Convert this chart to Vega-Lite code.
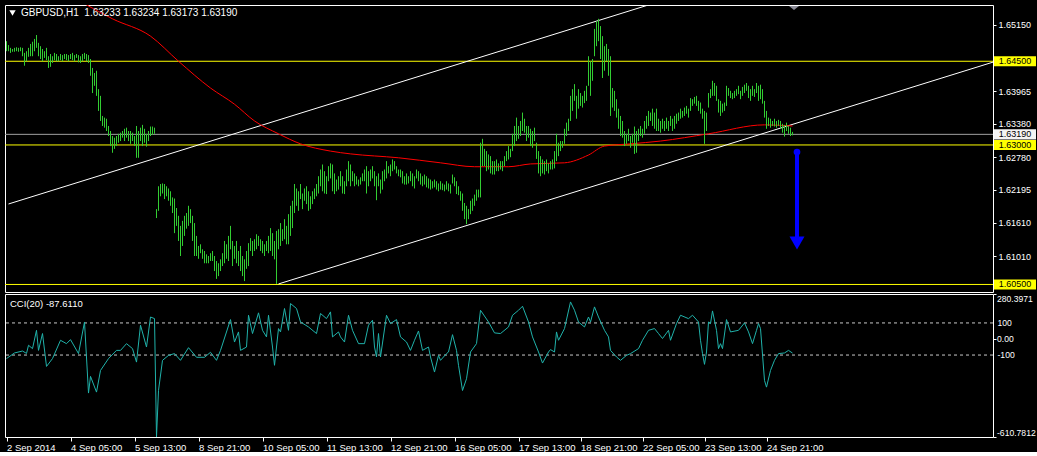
{
"$schema": "https://vega.github.io/schema/vega-lite/v6.json",
"background": "#000000",
"padding": {"left": 4, "top": 4, "right": 0, "bottom": 0},
"spacing": 2,
"bounds": "flush",
"config": {
 "view": {"stroke": "#FFFFFF", "strokeWidth": 1},
 "axis": {"grid": false, "domain": false, "labelColor": "#FFFFFF", "tickColor": "#FFFFFF", "labelFont": "Liberation Sans", "labelFontSize": 9, "title": null, "labelOverlap": false},
 "text": {"font": "Liberation Sans", "fontSize": 9.5}
},
"datasets": {
 "bars": [
{"i":0,"h":1.6486,"l":1.6468},{"i":1,"h":1.6479,"l":1.6468},{"i":2,"h":1.6474,"l":1.6465},{"i":3,"h":1.6472,"l":1.6467},{"i":4,"h":1.6474,"l":1.6467},{"i":5,"h":1.6475,"l":1.6468},{"i":6,"h":1.6474,"l":1.6467},{"i":7,"h":1.6475,"l":1.6468},
{"i":8,"h":1.6474,"l":1.6459},{"i":9,"h":1.6465,"l":1.6442},{"i":10,"h":1.6468,"l":1.6450},{"i":11,"h":1.6474,"l":1.6458},{"i":12,"h":1.6481,"l":1.6459},{"i":13,"h":1.6485,"l":1.6459},{"i":14,"h":1.6490,"l":1.6468},{"i":15,"h":1.6497,"l":1.6474},
{"i":16,"h":1.6483,"l":1.6459},{"i":17,"h":1.6477,"l":1.6454},{"i":18,"h":1.6472,"l":1.6450},{"i":19,"h":1.6468,"l":1.6456},{"i":20,"h":1.6474,"l":1.6452},
{"i":21,"h":1.6459,"l":1.6438},{"i":22,"h":1.6463,"l":1.6440},{"i":23,"h":1.6459,"l":1.6447},{"i":24,"h":1.6465,"l":1.6452},
{"i":25,"h":1.6463,"l":1.6450},{"i":26,"h":1.6459,"l":1.6450},{"i":27,"h":1.6463,"l":1.6452},{"i":28,"h":1.6461,"l":1.6450},{"i":29,"h":1.6463,"l":1.6454},{"i":30,"h":1.6463,"l":1.6452},{"i":31,"h":1.6461,"l":1.6450},{"i":32,"h":1.6463,"l":1.6454},{"i":33,"h":1.6465,"l":1.6452},{"i":34,"h":1.6461,"l":1.6450},{"i":35,"h":1.6463,"l":1.6456},{"i":36,"h":1.6461,"l":1.6448},{"i":37,"h":1.6459,"l":1.6447},{"i":38,"h":1.6463,"l":1.6450},{"i":39,"h":1.6465,"l":1.6454},{"i":40,"h":1.6463,"l":1.6450},{"i":41,"h":1.6461,"l":1.6447},
{"i":42,"h":1.6454,"l":1.6424},{"i":43,"h":1.6438,"l":1.6393},{"i":44,"h":1.6429,"l":1.6406},{"i":45,"h":1.6433,"l":1.6388},{"i":46,"h":1.6400,"l":1.6361},{"i":47,"h":1.6388,"l":1.6343},{"i":48,"h":1.6352,"l":1.6334},{"i":49,"h":1.6349,"l":1.6331},{"i":50,"h":1.6347,"l":1.6325},{"i":51,"h":1.6334,"l":1.6316},{"i":52,"h":1.6325,"l":1.6298},{"i":53,"h":1.6316,"l":1.6286},{"i":54,"h":1.6313,"l":1.6293},{"i":55,"h":1.6316,"l":1.6298},{"i":56,"h":1.6320,"l":1.6304},{"i":57,"h":1.6322,"l":1.6307},{"i":58,"h":1.6325,"l":1.6313},{"i":59,"h":1.6329,"l":1.6307},{"i":60,"h":1.6331,"l":1.6313},{"i":61,"h":1.6325,"l":1.6307},{"i":62,"h":1.6325,"l":1.6302},{"i":63,"h":1.6322,"l":1.6307},{"i":64,"h":1.6316,"l":1.6298},{"i":65,"h":1.6334,"l":1.6277},{"i":66,"h":1.6325,"l":1.6277},{"i":67,"h":1.6331,"l":1.6307},{"i":68,"h":1.6336,"l":1.6298},{"i":69,"h":1.6329,"l":1.6304},{"i":70,"h":1.6320,"l":1.6297},{"i":71,"h":1.6325,"l":1.6307},{"i":72,"h":1.6333,"l":1.6316},{"i":73,"h":1.6333,"l":1.6318},{"i":74,"h":1.6331,"l":1.6320},
{"i":75,"h":1.6185,"l":1.6169},{"i":76,"h":1.6226,"l":1.6182},{"i":77,"h":1.6230,"l":1.6208},{"i":78,"h":1.6231,"l":1.6213},{"i":79,"h":1.6230,"l":1.6203},{"i":80,"h":1.6226,"l":1.6208},{"i":81,"h":1.6222,"l":1.6200},{"i":82,"h":1.6217,"l":1.6191},{"i":83,"h":1.6206,"l":1.6178},{"i":84,"h":1.6204,"l":1.6142},{"i":85,"h":1.6187,"l":1.6155},{"i":86,"h":1.6173,"l":1.6128},{"i":87,"h":1.6155,"l":1.6101},{"i":88,"h":1.6164,"l":1.6119},{"i":89,"h":1.6173,"l":1.6137},{"i":90,"h":1.6178,"l":1.6150},{"i":91,"h":1.6191,"l":1.6155},{"i":92,"h":1.6185,"l":1.6160},{"i":93,"h":1.6173,"l":1.6128},{"i":94,"h":1.6160,"l":1.6101},{"i":95,"h":1.6137,"l":1.6101},{"i":96,"h":1.6119,"l":1.6096},{"i":97,"h":1.6122,"l":1.6106},{"i":98,"h":1.6113,"l":1.6096},{"i":99,"h":1.6110,"l":1.6088},{"i":100,"h":1.6104,"l":1.6088},{"i":101,"h":1.6101,"l":1.6088},{"i":102,"h":1.6106,"l":1.6092},{"i":103,"h":1.6110,"l":1.6092},{"i":104,"h":1.6101,"l":1.6074},{"i":105,"h":1.6092,"l":1.6060},{"i":106,"h":1.6088,"l":1.6065},{"i":107,"h":1.6095,"l":1.6074},{"i":108,"h":1.6106,"l":1.6083},{"i":109,"h":1.6128,"l":1.6088},{"i":110,"h":1.6122,"l":1.6096},{"i":111,"h":1.6137,"l":1.6092},{"i":112,"h":1.6155,"l":1.6113},{"i":113,"h":1.6128,"l":1.6083},{"i":114,"h":1.6119,"l":1.6096},{"i":115,"h":1.6128,"l":1.6088},{"i":116,"h":1.6110,"l":1.6083},{"i":117,"h":1.6119,"l":1.6074},{"i":118,"h":1.6101,"l":1.6065},{"i":119,"h":1.6095,"l":1.6056},{"i":120,"h":1.6110,"l":1.6078},{"i":121,"h":1.6124,"l":1.6083},{"i":122,"h":1.6133,"l":1.6110},{"i":123,"h":1.6128,"l":1.6101},{"i":124,"h":1.6131,"l":1.6110},{"i":125,"h":1.6140,"l":1.6113},{"i":126,"h":1.6137,"l":1.6119},{"i":127,"h":1.6131,"l":1.6110},{"i":128,"h":1.6128,"l":1.6106},{"i":129,"h":1.6122,"l":1.6101},{"i":130,"h":1.6128,"l":1.6110},{"i":131,"h":1.6137,"l":1.6106},{"i":132,"h":1.6151,"l":1.6110},{"i":133,"h":1.6142,"l":1.6101},{"i":134,"h":1.6128,"l":1.6095},{"i":135,"h":1.6146,"l":1.6051},{"i":136,"h":1.6149,"l":1.6113},{"i":137,"h":1.6160,"l":1.6119},{"i":138,"h":1.6149,"l":1.6128},{"i":139,"h":1.6167,"l":1.6131},{"i":140,"h":1.6155,"l":1.6122},{"i":141,"h":1.6176,"l":1.6122},{"i":142,"h":1.6191,"l":1.6137},{"i":143,"h":1.6200,"l":1.6151},{"i":144,"h":1.6230,"l":1.6178},{"i":145,"h":1.6222,"l":1.6191},{"i":146,"h":1.6217,"l":1.6182},{"i":147,"h":1.6230,"l":1.6203},{"i":148,"h":1.6213,"l":1.6185},{"i":149,"h":1.6222,"l":1.6200},{"i":150,"h":1.6226,"l":1.6194},{"i":151,"h":1.6217,"l":1.6182},{"i":152,"h":1.6208,"l":1.6185},{"i":153,"h":1.6217,"l":1.6194},{"i":154,"h":1.6222,"l":1.6203},{"i":155,"h":1.6230,"l":1.6208},{"i":156,"h":1.6244,"l":1.6213},{"i":157,"h":1.6256,"l":1.6226},{"i":158,"h":1.6265,"l":1.6217},{"i":159,"h":1.6253,"l":1.6213},{"i":160,"h":1.6244,"l":1.6212},{"i":161,"h":1.6262,"l":1.6235},{"i":162,"h":1.6267,"l":1.6240},{"i":163,"h":1.6265,"l":1.6217},{"i":164,"h":1.6249,"l":1.6212},{"i":165,"h":1.6238,"l":1.6217},{"i":166,"h":1.6244,"l":1.6220},{"i":167,"h":1.6253,"l":1.6226},{"i":168,"h":1.6244,"l":1.6213},{"i":169,"h":1.6235,"l":1.6212},{"i":170,"h":1.6256,"l":1.6226},{"i":171,"h":1.6271,"l":1.6235},{"i":172,"h":1.6265,"l":1.6226},{"i":173,"h":1.6253,"l":1.6235},{"i":174,"h":1.6249,"l":1.6226},{"i":175,"h":1.6244,"l":1.6229},{"i":176,"h":1.6238,"l":1.6226},{"i":177,"h":1.6242,"l":1.6229},{"i":178,"h":1.6249,"l":1.6235},{"i":179,"h":1.6256,"l":1.6235},{"i":180,"h":1.6262,"l":1.6213},{"i":181,"h":1.6253,"l":1.6226},{"i":182,"h":1.6256,"l":1.6235},{"i":183,"h":1.6262,"l":1.6240},{"i":184,"h":1.6253,"l":1.6226},{"i":185,"h":1.6244,"l":1.6201},{"i":186,"h":1.6249,"l":1.6226},{"i":187,"h":1.6238,"l":1.6213},{"i":188,"h":1.6253,"l":1.6220},{"i":189,"h":1.6256,"l":1.6235},{"i":190,"h":1.6271,"l":1.6240},{"i":191,"h":1.6262,"l":1.6249},{"i":192,"h":1.6265,"l":1.6244},{"i":193,"h":1.6274,"l":1.6253},{"i":194,"h":1.6271,"l":1.6256},{"i":195,"h":1.6262,"l":1.6249},{"i":196,"h":1.6256,"l":1.6244},{"i":197,"h":1.6256,"l":1.6242},{"i":198,"h":1.6253,"l":1.6231},{"i":199,"h":1.6244,"l":1.6229},{"i":200,"h":1.6249,"l":1.6229},{"i":201,"h":1.6244,"l":1.6231},{"i":202,"h":1.6253,"l":1.6235},{"i":203,"h":1.6249,"l":1.6226},{"i":204,"h":1.6244,"l":1.6222},{"i":205,"h":1.6256,"l":1.6240},{"i":206,"h":1.6253,"l":1.6235},{"i":207,"h":1.6249,"l":1.6229},{"i":208,"h":1.6244,"l":1.6226},{"i":209,"h":1.6247,"l":1.6229},{"i":210,"h":1.6244,"l":1.6224},{"i":211,"h":1.6240,"l":1.6222},{"i":212,"h":1.6238,"l":1.6220},{"i":213,"h":1.6235,"l":1.6222},{"i":214,"h":1.6238,"l":1.6224},{"i":215,"h":1.6235,"l":1.6220},{"i":216,"h":1.6231,"l":1.6217},{"i":217,"h":1.6235,"l":1.6220},{"i":218,"h":1.6231,"l":1.6219},{"i":219,"h":1.6229,"l":1.6217},{"i":220,"h":1.6235,"l":1.6220},{"i":221,"h":1.6231,"l":1.6217},{"i":222,"h":1.6229,"l":1.6213},{"i":223,"h":1.6247,"l":1.6231},{"i":224,"h":1.6242,"l":1.6226},{"i":225,"h":1.6235,"l":1.6212},{"i":226,"h":1.6226,"l":1.6210},{"i":227,"h":1.6217,"l":1.6200},{"i":228,"h":1.6213,"l":1.6182},{"i":229,"h":1.6196,"l":1.6167},{"i":230,"h":1.6191,"l":1.6158},{"i":231,"h":1.6185,"l":1.6167},{"i":232,"h":1.6200,"l":1.6176},{"i":233,"h":1.6204,"l":1.6182},{"i":234,"h":1.6211,"l":1.6191},{"i":235,"h":1.6220,"l":1.6200},{"i":236,"h":1.6220,"l":1.6206},{"i":237,"h":1.6304,"l":1.6206},{"i":238,"h":1.6311,"l":1.6262},{"i":239,"h":1.6293,"l":1.6262},{"i":240,"h":1.6289,"l":1.6253},{"i":241,"h":1.6283,"l":1.6256},{"i":242,"h":1.6280,"l":1.6249},{"i":243,"h":1.6271,"l":1.6247},{"i":244,"h":1.6271,"l":1.6247},{"i":245,"h":1.6274,"l":1.6253},{"i":246,"h":1.6267,"l":1.6253},{"i":247,"h":1.6271,"l":1.6256},{"i":248,"h":1.6271,"l":1.6253},{"i":249,"h":1.6280,"l":1.6262},{"i":250,"h":1.6289,"l":1.6271},{"i":251,"h":1.6298,"l":1.6274},{"i":252,"h":1.6293,"l":1.6278},{"i":253,"h":1.6320,"l":1.6289},{"i":254,"h":1.6334,"l":1.6298},{"i":255,"h":1.6349,"l":1.6307},{"i":256,"h":1.6334,"l":1.6311},{"i":257,"h":1.6343,"l":1.6316},{"i":258,"h":1.6358,"l":1.6325},{"i":259,"h":1.6347,"l":1.6322},{"i":260,"h":1.6334,"l":1.6307},{"i":261,"h":1.6334,"l":1.6313},{"i":262,"h":1.6329,"l":1.6298},{"i":263,"h":1.6325,"l":1.6295},{"i":264,"h":1.6331,"l":1.6307},{"i":265,"h":1.6304,"l":1.6275},{"i":266,"h":1.6289,"l":1.6249},{"i":267,"h":1.6280,"l":1.6244},{"i":268,"h":1.6274,"l":1.6249},{"i":269,"h":1.6271,"l":1.6247},{"i":270,"h":1.6274,"l":1.6253},{"i":271,"h":1.6267,"l":1.6249},{"i":272,"h":1.6271,"l":1.6256},{"i":273,"h":1.6274,"l":1.6256},{"i":274,"h":1.6289,"l":1.6258},{"i":275,"h":1.6320,"l":1.6271},{"i":276,"h":1.6304,"l":1.6280},{"i":277,"h":1.6307,"l":1.6289},{"i":278,"h":1.6307,"l":1.6295},{"i":279,"h":1.6329,"l":1.6302},{"i":280,"h":1.6340,"l":1.6316},{"i":281,"h":1.6347,"l":1.6325},{"i":282,"h":1.6388,"l":1.6343},{"i":283,"h":1.6400,"l":1.6361},{"i":284,"h":1.6409,"l":1.6379},{"i":285,"h":1.6388,"l":1.6347},{"i":286,"h":1.6400,"l":1.6365},{"i":287,"h":1.6393,"l":1.6370},{"i":288,"h":1.6388,"l":1.6367},{"i":289,"h":1.6397,"l":1.6375},{"i":290,"h":1.6406,"l":1.6379},{"i":291,"h":1.6459,"l":1.6406},{"i":292,"h":1.6450,"l":1.6388},{"i":293,"h":1.6454,"l":1.6415},{"i":294,"h":1.6508,"l":1.6459},{"i":295,"h":1.6522,"l":1.6477},{"i":296,"h":1.6526,"l":1.6486},{"i":297,"h":1.6513,"l":1.6454},{"i":298,"h":1.6495,"l":1.6420},{"i":299,"h":1.6477,"l":1.6433},{"i":300,"h":1.6481,"l":1.6450},{"i":301,"h":1.6472,"l":1.6424},{"i":302,"h":1.6459,"l":1.6352},{"i":303,"h":1.6402,"l":1.6367},{"i":304,"h":1.6397,"l":1.6361},{"i":305,"h":1.6382,"l":1.6349},{"i":306,"h":1.6365,"l":1.6329},{"i":307,"h":1.6352,"l":1.6316},{"i":308,"h":1.6343,"l":1.6313},{"i":309,"h":1.6325,"l":1.6298},{"i":310,"h":1.6320,"l":1.6302},{"i":311,"h":1.6329,"l":1.6307},{"i":312,"h":1.6316,"l":1.6295},{"i":313,"h":1.6320,"l":1.6304},{"i":314,"h":1.6333,"l":1.6284},{"i":315,"h":1.6325,"l":1.6286},{"i":316,"h":1.6329,"l":1.6307},{"i":317,"h":1.6334,"l":1.6316},{"i":318,"h":1.6329,"l":1.6313},{"i":319,"h":1.6343,"l":1.6320},{"i":320,"h":1.6352,"l":1.6329},{"i":321,"h":1.6361,"l":1.6334},{"i":322,"h":1.6358,"l":1.6343},{"i":323,"h":1.6365,"l":1.6334},{"i":324,"h":1.6358,"l":1.6329},{"i":325,"h":1.6365,"l":1.6325},{"i":326,"h":1.6347,"l":1.6325},{"i":327,"h":1.6343,"l":1.6322},{"i":328,"h":1.6347,"l":1.6329},{"i":329,"h":1.6343,"l":1.6325},{"i":330,"h":1.6349,"l":1.6329},{"i":331,"h":1.6343,"l":1.6325},{"i":332,"h":1.6352,"l":1.6334},{"i":333,"h":1.6347,"l":1.6325},{"i":334,"h":1.6352,"l":1.6329},{"i":335,"h":1.6356,"l":1.6338},{"i":336,"h":1.6358,"l":1.6343},{"i":337,"h":1.6365,"l":1.6347},{"i":338,"h":1.6361,"l":1.6349},{"i":339,"h":1.6367,"l":1.6352},{"i":340,"h":1.6370,"l":1.6356},{"i":341,"h":1.6365,"l":1.6349},{"i":342,"h":1.6384,"l":1.6361},{"i":343,"h":1.6382,"l":1.6370},{"i":344,"h":1.6386,"l":1.6374},{"i":345,"h":1.6388,"l":1.6370},{"i":346,"h":1.6379,"l":1.6361},{"i":347,"h":1.6376,"l":1.6356},{"i":348,"h":1.6365,"l":1.6347},{"i":349,"h":1.6361,"l":1.6302},{"i":350,"h":1.6358,"l":1.6325},{"i":351,"h":1.6393,"l":1.6367},{"i":352,"h":1.6400,"l":1.6384},{"i":353,"h":1.6415,"l":1.6388},{"i":354,"h":1.6411,"l":1.6388},{"i":355,"h":1.6406,"l":1.6379},{"i":356,"h":1.6382,"l":1.6358},{"i":357,"h":1.6379,"l":1.6352},{"i":358,"h":1.6374,"l":1.6358},{"i":359,"h":1.6376,"l":1.6361},{"i":360,"h":1.6406,"l":1.6370},{"i":361,"h":1.6402,"l":1.6388},{"i":362,"h":1.6397,"l":1.6384},{"i":363,"h":1.6393,"l":1.6382},{"i":364,"h":1.6397,"l":1.6384},{"i":365,"h":1.6400,"l":1.6388},{"i":366,"h":1.6406,"l":1.6391},{"i":367,"h":1.6397,"l":1.6382},{"i":368,"h":1.6404,"l":1.6388},{"i":369,"h":1.6408,"l":1.6393},{"i":370,"h":1.6411,"l":1.6397},{"i":371,"h":1.6406,"l":1.6384},{"i":372,"h":1.6400,"l":1.6379},{"i":373,"h":1.6406,"l":1.6388},{"i":374,"h":1.6400,"l":1.6386},{"i":375,"h":1.6411,"l":1.6393},{"i":376,"h":1.6406,"l":1.6379},{"i":377,"h":1.6408,"l":1.6382},{"i":378,"h":1.6400,"l":1.6374},{"i":379,"h":1.6379,"l":1.6349},{"i":380,"h":1.6361,"l":1.6329},{"i":381,"h":1.6349,"l":1.6334},{"i":382,"h":1.6347,"l":1.6331},{"i":383,"h":1.6343,"l":1.6334},{"i":384,"h":1.6347,"l":1.6333},{"i":385,"h":1.6343,"l":1.6331},{"i":386,"h":1.6345,"l":1.6334},{"i":387,"h":1.6343,"l":1.6329},{"i":388,"h":1.6338,"l":1.6322},{"i":389,"h":1.6336,"l":1.6315},{"i":390,"h":1.6340,"l":1.6325},{"i":391,"h":1.6334,"l":1.6320},{"i":392,"h":1.6331,"l":1.6316},{"i":393,"h":1.63234,"l":1.63173}
 ],
 "ma": [
{"i":39,"p":1.6553},{"i":53,"p":1.6526},{"i":72,"p":1.6495},{"i":86,"p":1.6450},{"i":102,"p":1.6402},{"i":114,"p":1.6373},{"i":124,"p":1.6343},{"i":136,"p":1.6320},{"i":147,"p":1.6302},{"i":162,"p":1.6289},{"i":172,"p":1.6284},{"i":196,"p":1.6277},{"i":217,"p":1.6268},{"i":234,"p":1.6261},{"i":251,"p":1.6261},{"i":262,"p":1.6266},{"i":279,"p":1.6268},{"i":291,"p":1.6282},{"i":299,"p":1.6298},{"i":312,"p":1.6302},{"i":327,"p":1.6307},{"i":351,"p":1.6320},{"i":379,"p":1.6336},{"i":393,"p":1.6334}
 ],
 "channel": [
{"i":1,"p":1.61942,"g":"upper"},{"i":322,"p":1.6552,"g":"upper"},
{"i":136,"p":1.60509,"g":"lower"},{"i":493.5,"p":1.64487,"g":"lower"}
 ],
 "levels": [
{"p":1.645,"lab":"1.64500","k":"level"},{"p":1.63,"lab":"1.63000","k":"level"},{"p":1.605,"lab":"1.60500","k":"level"},{"p":1.6319,"lab":"1.63190","k":"bid"}
 ],
 "cci": [
{"i":0,"v":-122},{"i":4,"v":-87},{"i":8,"v":-75},{"i":10,"v":-90},{"i":11,"v":-39},{"i":13,"v":-60},{"i":15,"v":54},{"i":16,"v":-71},{"i":18,"v":34},{"i":20,"v":-171},{"i":23,"v":-122},{"i":27,"v":-8},{"i":30,"v":-29},{"i":32,"v":-4},{"i":36,"v":-91},{"i":39,"v":106},{"i":41,"v":-337},{"i":42,"v":-233},{"i":45,"v":-331},{"i":47,"v":-196},{"i":51,"v":-122},{"i":55,"v":-71},{"i":57,"v":-71},{"i":60,"v":-29},{"i":63,"v":-60},{"i":65,"v":-144},{"i":67,"v":86},{"i":70,"v":-50},{"i":72,"v":137},{"i":74,"v":127},{"i":75,"v":-610},{"i":76,"v":-320},{"i":78,"v":-133},{"i":81,"v":-102},{"i":84,"v":-91},{"i":87,"v":-133},{"i":91,"v":-54},{"i":95,"v":-114},{"i":99,"v":-114},{"i":102,"v":-83},{"i":105,"v":-133},{"i":107,"v":-71},{"i":112,"v":121},{"i":114,"v":-19},{"i":116,"v":44},{"i":117,"v":-71},{"i":120,"v":-50},{"i":121,"v":148},{"i":123,"v":34},{"i":126,"v":163},{"i":128,"v":54},{"i":130,"v":13},{"i":131,"v":148},{"i":133,"v":-50},{"i":134,"v":-164},{"i":136,"v":65},{"i":137,"v":44},{"i":139,"v":190},{"i":141,"v":54},{"i":142,"v":221},{"i":145,"v":190},{"i":147,"v":106},{"i":151,"v":75},{"i":155,"v":34},{"i":157,"v":159},{"i":160,"v":127},{"i":162,"v":169},{"i":163,"v":13},{"i":166,"v":44},{"i":167,"v":13},{"i":169,"v":-19},{"i":171,"v":148},{"i":173,"v":54},{"i":176,"v":-29},{"i":179,"v":-29},{"i":181,"v":86},{"i":183,"v":117},{"i":184,"v":-50},{"i":185,"v":-112},{"i":186,"v":34},{"i":187,"v":-112},{"i":190,"v":148},{"i":192,"v":96},{"i":195,"v":121},{"i":197,"v":13},{"i":200,"v":-19},{"i":202,"v":-71},{"i":204,"v":-8},{"i":206,"v":50},{"i":208,"v":-71},{"i":211,"v":-50},{"i":212,"v":-112},{"i":214,"v":-206},{"i":216,"v":-102},{"i":217,"v":-133},{"i":220,"v":-91},{"i":221,"v":-81},{"i":223,"v":27},{"i":225,"v":-71},{"i":226,"v":-164},{"i":228,"v":-321},{"i":230,"v":-248},{"i":232,"v":-81},{"i":235,"v":-29},{"i":237,"v":179},{"i":241,"v":106},{"i":244,"v":38},{"i":247,"v":34},{"i":251,"v":75},{"i":253,"v":148},{"i":256,"v":179},{"i":258,"v":204},{"i":261,"v":106},{"i":263,"v":13},{"i":266,"v":-81},{"i":268,"v":-150},{"i":271,"v":-81},{"i":272,"v":-66},{"i":274,"v":-81},{"i":275,"v":44},{"i":276,"v":-8},{"i":279,"v":65},{"i":282,"v":231},{"i":284,"v":179},{"i":286,"v":106},{"i":289,"v":75},{"i":291,"v":137},{"i":292,"v":106},{"i":294,"v":200},{"i":296,"v":137},{"i":299,"v":54},{"i":301,"v":13},{"i":302,"v":-71},{"i":305,"v":-112},{"i":307,"v":-133},{"i":310,"v":-102},{"i":312,"v":-91},{"i":316,"v":-60},{"i":318,"v":-8},{"i":321,"v":54},{"i":324,"v":65},{"i":326,"v":34},{"i":328,"v":3},{"i":331,"v":54},{"i":332,"v":-8},{"i":335,"v":96},{"i":337,"v":148},{"i":341,"v":127},{"i":343,"v":148},{"i":346,"v":106},{"i":347,"v":-8},{"i":348,"v":-91},{"i":349,"v":-158},{"i":350,"v":-81},{"i":351,"v":106},{"i":352,"v":96},{"i":353,"v":175},{"i":355,"v":54},{"i":356,"v":-60},{"i":357,"v":-29},{"i":358,"v":-60},{"i":360,"v":121},{"i":362,"v":44},{"i":366,"v":54},{"i":369,"v":100},{"i":371,"v":44},{"i":373,"v":-29},{"i":375,"v":54},{"i":376,"v":96},{"i":377,"v":65},{"i":379,"v":-258},{"i":380,"v":-300},{"i":382,"v":-196},{"i":384,"v":-133},{"i":386,"v":-91},{"i":389,"v":-87},{"i":391,"v":-71},{"i":393,"v":-87.611}
 ]
},
"vconcat": [
 {
  "width": 988,
  "height": 287,
  "layer": [
   {"data": {"name": "levels"}, "mark": {"type": "rule", "strokeWidth": 1},
    "encoding": {
     "y": {"field": "p", "type": "quantitative", "scale": {"domain": [1.60365, 1.65508], "nice": false, "zero": false},
           "axis": {"orient": "right", "values": [1.6515, 1.63965, 1.6338, 1.6278, 1.62195, 1.6161, 1.6101], "format": ".5f", "tickSize": 3, "labelPadding": 2, "labelOverlap": false}},
     "color": {"field": "k", "type": "nominal", "scale": {"domain": ["level", "bid"], "range": ["#FFFF00", "#A0A0A0"]}, "legend": null}}},
   {"data": {"name": "channel"}, "mark": {"type": "line", "color": "#FFFFFF", "strokeWidth": 1, "clip": true},
    "encoding": {
     "x": {"field": "i", "type": "quantitative", "scale": {"domain": [-0.75, 493.25], "nice": false, "zero": false}, "axis": null},
     "y": {"field": "p", "type": "quantitative"},
     "detail": {"field": "g"}}},
   {"data": {"name": "ma"}, "mark": {"type": "line", "color": "#FF0000", "strokeWidth": 1, "clip": true, "interpolate": "monotone"},
    "encoding": {"x": {"field": "i", "type": "quantitative"}, "y": {"field": "p", "type": "quantitative"}}},
   {"data": {"name": "bars"}, "mark": {"type": "rule", "color": "#32CD32", "strokeWidth": 1},
    "encoding": {"x": {"field": "i", "type": "quantitative"}, "y": {"field": "h", "type": "quantitative"}, "y2": {"field": "l"}}},
   {"data": {"name": "levels"}, "mark": {"type": "point", "filled": true, "opacity": 1, "size": 1764, "shape": "M-1,-0.24L1,-0.24L1,0.24L-1,0.24Z", "strokeWidth": 0},
    "encoding": {"x": {"datum": 504.25, "type": "quantitative"}, "y": {"field": "p", "type": "quantitative"},
     "fill": {"field": "k", "type": "nominal", "scale": {"domain": ["level", "bid"], "range": ["#FFFF00", "#F4F4F4"]}, "legend": null}}},
   {"data": {"name": "levels"}, "mark": {"type": "text", "color": "#000000", "align": "center", "baseline": "middle", "fontSize": 9},
    "encoding": {"x": {"datum": 504.25, "type": "quantitative"}, "y": {"field": "p", "type": "quantitative"}, "text": {"field": "lab"}}},
   {"data": {"values": [{"t": "GBPUSD,H1\u00a0\u00a01.63233 1.63234 1.63173 1.63190"}]},
    "mark": {"type": "text", "color": "#FFFFFF", "align": "left", "baseline": "middle", "fontSize": 10},
    "encoding": {"x": {"datum": 7.25, "type": "quantitative"}, "y": {"datum": 1.65365, "type": "quantitative"}, "text": {"field": "t"}}},
   {"data": {"values": [{"s": "menu"}]},
    "mark": {"type": "point", "shape": "triangle-down", "filled": true, "color": "#FFFFFF", "opacity": 1, "size": 40},
    "encoding": {"x": {"datum": 3, "type": "quantitative"}, "y": {"datum": 1.65365, "type": "quantitative"}}},
   {"data": {"values": [{"s": "shift"}]},
    "mark": {"type": "point", "shape": "M-1,-0.4L1,-0.4L0,0.4Z", "filled": true, "color": "#8A8A96", "opacity": 1, "size": 100},
    "encoding": {"x": {"datum": 393.75, "type": "quantitative"}, "y": {"datum": 1.65454, "type": "quantitative"}}},
   {"data": {"values": [{"s": "arrow"}]},
    "mark": {"type": "rule", "color": "#0000FF", "strokeWidth": 4},
    "encoding": {"x": {"datum": 395.25, "type": "quantitative"}, "y": {"datum": 1.62874, "type": "quantitative"}, "y2": {"datum": 1.61315}}},
   {"data": {"values": [{"s": "arrow"}]},
    "mark": {"type": "point", "shape": "circle", "filled": true, "color": "#0000FF", "opacity": 1, "size": 45},
    "encoding": {"x": {"datum": 395.25, "type": "quantitative"}, "y": {"datum": 1.62874, "type": "quantitative"}}},
   {"data": {"values": [{"s": "arrow"}]},
    "mark": {"type": "point", "shape": "triangle-down", "filled": true, "color": "#0000FF", "opacity": 1, "size": 225},
    "encoding": {"x": {"datum": 395.25, "type": "quantitative"}, "y": {"datum": 1.61243, "type": "quantitative"}}}
  ]
 },
 {
  "width": 988,
  "height": 143,
  "layer": [
   {"data": {"values": [{"v": 100}, {"v": -100}]}, "mark": {"type": "rule", "color": "#C8C8C8", "strokeWidth": 1, "strokeDash": [3, 3]},
    "encoding": {
     "y": {"field": "v", "type": "quantitative", "scale": {"domain": [-610.7812, 280.3971], "nice": false, "zero": false},
           "axis": {"orient": "right", "values": [280.3971, 100, 0, -100, -610.7812], "labelOverlap": false, "labelSeparation": 0, "tickSize": 3, "labelPadding": 0.5, "labelFontSize": 8.6,
                    "labelBaseline": {"condition": [{"test": "datum.value > 200", "value": "top"}, {"test": "datum.value < -600", "value": "bottom"}], "value": "middle"},
                    "labelExpr": "datum.value == 100 ? '100' : (datum.value == -100 ? '-100' : (datum.value == 0 ? '0.00' : (datum.value > 0 ? '280.3971' : '-610.7812')))"}}}},
   {"data": {"values": [{"v": 100, "lab": "100"}, {"v": -100, "lab": "-100"}]},
    "mark": {"type": "text", "color": "#FFFFFF", "align": "left", "baseline": "middle", "fontSize": 8.6},
    "encoding": {"x": {"datum": 495.5, "type": "quantitative"}, "y": {"field": "v", "type": "quantitative"}, "text": {"field": "lab"}}},
   {"data": {"name": "cci"}, "mark": {"type": "line", "color": "#20B2AA", "strokeWidth": 1, "clip": true},
    "encoding": {
     "x": {"field": "i", "type": "quantitative", "scale": {"domain": [-0.75, 493.25], "nice": false, "zero": false},
           "axis": {"orient": "bottom", "values": [0, 32, 64, 96, 128, 160, 192, 224, 256, 287, 318, 349, 380],
                    "labelExpr": "['2 Sep 2014','4 Sep 05:00','5 Sep 13:00','8 Sep 21:00','10 Sep 05:00','11 Sep 13:00','12 Sep 21:00','16 Sep 05:00','17 Sep 13:00','18 Sep 21:00','22 Sep 05:00','23 Sep 13:00','24 Sep 21:00'][indexof([0,32,64,96,128,160,192,224,256,287,318,349,380], datum.value)]",
                    "labelAlign": "left", "labelBaseline": "top", "tickSize": 4, "labelPadding": 1, "labelOverlap": false, "labelBound": false, "labelFlush": false, "labelFontSize": 9.5}},
     "y": {"field": "v", "type": "quantitative"}}},
   {"data": {"values": [{"t": "CCI(20) -87.6110"}]},
    "mark": {"type": "text", "color": "#FFFFFF", "align": "left", "baseline": "middle", "fontSize": 9.5},
    "encoding": {"x": {"datum": 1.75, "type": "quantitative"}, "y": {"datum": 220, "type": "quantitative"}, "text": {"field": "t"}}}
  ]
 }
]
}
